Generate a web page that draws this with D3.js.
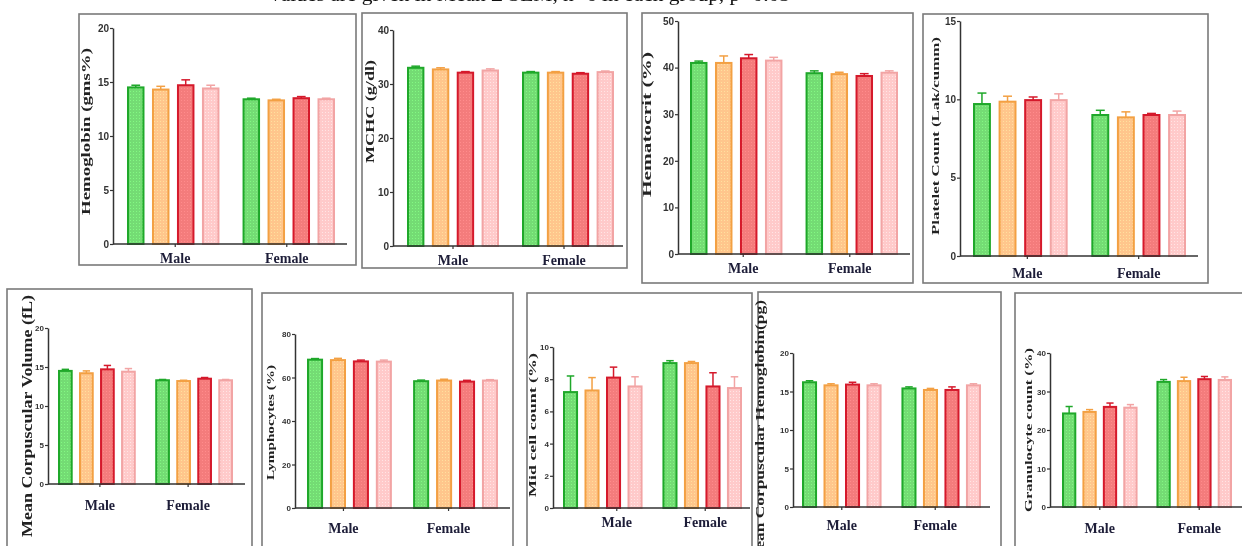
<!DOCTYPE html>
<html>
<head>
<meta charset="utf-8">
<script src="https://cdn.jsdelivr.net/npm/d3@7"></script>
<style>
  html, body { margin: 0; padding: 0; background: #fff; overflow: hidden; }
  svg { display: block; filter: blur(0.35px); }
</style>
</head>
<body>
<div id="chart"></div>
<script>
// figure data
const note = "values are given in Mean ± SEM, n=6 in each group, p<0.05";
const categories = ["Male", "Female"];
const groups = ["Group I", "Group II", "Group III", "Group IV"]; // not labelled in the figure
const panelLabels = [
  "Hemoglobin (gms%)", "MCHC (g/dl)", "Hematocrit (%)", "Platelet Count (Lak/cumm)",
  "Mean Corpuscular Volume (fL)", "Lymphocytes (%)", "Mid cell count (%)",
  "Mean Corpuscular Hemoglobin(pg)", "Granulocyte count (%)"
];
const yMaxes = [20, 40, 50, 15, 20, 80, 10, 20, 40];
const tickSteps = [5, 10, 10, 5, 5, 20, 2, 5, 10];
const maleMeans = [
  [14.5, 14.3, 14.7, 14.4],
  [33.0, 32.7, 32.1, 32.5],
  [41.0, 41.0, 42.0, 41.5],
  [9.7, 9.85, 9.95, 9.95],
  [14.5, 14.2, 14.7, 14.4],
  [68.2, 68.0, 67.4, 67.3],
  [7.2, 7.3, 8.1, 7.55],
  [16.2, 15.8, 15.9, 15.8],
  [24.3, 24.7, 26.0, 25.8]
];
const maleSem = [
  [0.2, 0.3, 0.5, 0.3],
  [0.3, 0.3, 0.2, 0.3],
  [0.4, 1.5, 0.8, 0.7],
  [0.7, 0.35, 0.2, 0.4],
  [0.2, 0.3, 0.5, 0.4],
  [0.5, 0.8, 0.6, 0.7],
  [1.0, 0.8, 0.65, 0.6],
  [0.2, 0.2, 0.3, 0.2],
  [1.8, 0.6, 1.0, 0.8]
];
const femaleMeans = [
  [13.4, 13.3, 13.5, 13.4],
  [32.1, 32.1, 31.9, 32.2],
  [38.8, 38.6, 38.2, 38.9],
  [9.0, 8.85, 9.0, 9.0],
  [13.3, 13.2, 13.5, 13.3],
  [58.3, 58.6, 58.1, 58.6],
  [9.0, 9.0, 7.55, 7.45],
  [15.4, 15.2, 15.2, 15.8],
  [32.5, 32.7, 33.2, 33.0]
];
const femaleSem = [
  [0.1, 0.1, 0.15, 0.1],
  [0.2, 0.2, 0.2, 0.2],
  [0.5, 0.4, 0.5, 0.4],
  [0.3, 0.35, 0.1, 0.25],
  [0.1, 0.1, 0.15, 0.1],
  [0.5, 0.6, 0.6, 0.4],
  [0.15, 0.1, 0.85, 0.7],
  [0.2, 0.2, 0.4, 0.2],
  [0.6, 1.0, 0.7, 0.8]
];

// look
const fills = ["#74dc74", "#ffc68c", "#f47c7c", "#ffcaca"];
const strokes = ["#1fa82a", "#f3a043", "#d5192b", "#f2a4a4"];

// where each panel sits on the page
const layout = [
  { box: [79, 14, 356, 265], ax: 113, y0: 244, yTop: 28, xEnd: 347, bars: [127, 335], lab: [85, 48, 215, 13], tf: 10, catY: 263, catDx: [2, -2] },
  { box: [362, 13, 627, 268], ax: 393, y0: 246, yTop: 30, xEnd: 623, bars: [407, 614], lab: [370, 60, 163, 12], tf: 10, catY: 265, catDx: [0, -4] },
  { box: [642, 13, 913, 283], ax: 678, y0: 254, yTop: 21, xEnd: 910, bars: [690, 898], lab: [647, 52, 197, 12], tf: 10, catY: 273, catDx: [7, -2] },
  { box: [923, 14, 1208, 283], ax: 960, y0: 256, yTop: 21, xEnd: 1198, bars: [973, 1186], lab: [935, 37, 235, 11], tf: 10, catY: 278, catDx: [7, 0] },
  { box: [7, 289, 252, 560], ax: 48, y0: 484, yTop: 328, xEnd: 245, bars: [58, 233], lab: [27, 295, 537, 14], tf: 8, catY: 510, catDx: [3, -6] },
  { box: [262, 293, 513, 560], ax: 295, y0: 508, yTop: 334, xEnd: 510, bars: [307, 498], lab: [270, 365, 480, 10], tf: 8, catY: 533, catDx: [-6, -7] },
  { box: [527, 293, 752, 560], ax: 553, y0: 508, yTop: 347, xEnd: 750, bars: [563, 742], lab: [532, 353, 497, 11], tf: 8, catY: 527, catDx: [14, 3] },
  { box: [758, 292, 1001, 560], ax: 793, y0: 507, yTop: 353, xEnd: 990, bars: [802, 981], lab: [760, 300, 565, 12], tf: 8, catY: 530, catDx: [0, -6] },
  { box: [1015, 293, 1250, 560], ax: 1050, y0: 507, yTop: 353, xEnd: 1242, bars: [1062, 1232], lab: [1028, 348, 512, 11], tf: 8, catY: 533, catDx: [0, 5] }
];

const W = 1242, H = 546;
const svg = d3.select("#chart").append("svg")
  .attr("width", W)
  .attr("height", H);

// dotted texture used by the bars
const defs = svg.append("defs");
fills.forEach((c, i) => {
  const p = defs.append("pattern")
    .attr("id", "tex" + i)
    .attr("width", 3).attr("height", 3)
    .attr("patternUnits", "userSpaceOnUse");
  p.append("rect").attr("width", 3).attr("height", 3).attr("fill", c);
  p.append("rect").attr("x", 1).attr("y", 1).attr("width", 1).attr("height", 1)
    .attr("fill", d3.color(c).brighter(0.35));
});

// caption, cut off by the top edge as in the source figure
svg.append("text")
  .attr("x", 270).attr("y", 1)
  .attr("textLength", 520)
  .attr("lengthAdjust", "spacingAndGlyphs")
  .style("font-family", "'Liberation Serif', 'Times New Roman', serif")
  .style("font-size", "18px")
  .attr("fill", "#111")
  .text(note);

layout.forEach((L, k) => {
  const g = svg.append("g");
  const [bx0, by0, bx1, by1] = L.box;

  g.append("rect")
    .attr("x", bx0).attr("y", by0)
    .attr("width", bx1 - bx0).attr("height", by1 - by0)
    .attr("fill", "none")
    .attr("stroke", "#7a7a7a")
    .attr("stroke-width", 1.6);

  const y = d3.scaleLinear().domain([0, yMaxes[k]]).range([L.y0, L.yTop]);
  const x0 = d3.scaleBand().domain(categories).range(L.bars).paddingInner(0.2).paddingOuter(0);
  const x1 = d3.scaleBand().domain(groups).range([0, x0.bandwidth()]).paddingInner(0.3).paddingOuter(0);

  const rows = categories.map((c, ci) => groups.map((gr, gi) => ({
    cat: c, grp: gr, gi: gi,
    v: (ci === 0 ? maleMeans : femaleMeans)[k][gi],
    e: (ci === 0 ? maleSem : femaleSem)[k][gi]
  }))).flat();

  // error bars (drawn first so the bar outline sits on top)
  const eb = g.selectAll(".err").data(rows).join("g").attr("class", "err")
    .attr("stroke", d => strokes[d.gi])
    .attr("stroke-width", 1.5);
  eb.append("line")
    .attr("x1", d => x0(d.cat) + x1(d.grp) + x1.bandwidth() / 2)
    .attr("x2", d => x0(d.cat) + x1(d.grp) + x1.bandwidth() / 2)
    .attr("y1", d => y(d.v))
    .attr("y2", d => y(d.v + d.e));
  eb.append("line")
    .attr("x1", d => x0(d.cat) + x1(d.grp) + x1.bandwidth() * 0.25)
    .attr("x2", d => x0(d.cat) + x1(d.grp) + x1.bandwidth() * 0.75)
    .attr("y1", d => y(d.v + d.e))
    .attr("y2", d => y(d.v + d.e));

  g.selectAll(".bar").data(rows).join("rect").attr("class", "bar")
    .attr("x", d => x0(d.cat) + x1(d.grp) + 1)
    .attr("y", d => y(d.v))
    .attr("width", x1.bandwidth() - 2)
    .attr("height", d => y(0) - y(d.v))
    .attr("fill", d => "url(#tex" + d.gi + ")")
    .attr("stroke", d => strokes[d.gi])
    .attr("stroke-width", 2);

  // y axis
  const ticks = d3.range(0, yMaxes[k] + tickSteps[k] / 2, tickSteps[k]);
  const ya = g.append("g")
    .attr("transform", `translate(${L.ax},0)`)
    .call(d3.axisLeft(y).tickValues(ticks).tickSize(3).tickSizeOuter(0).tickPadding(1));
  ya.select(".domain").attr("stroke", "#333").attr("stroke-width", 1.5);
  ya.selectAll(".tick line").attr("stroke", "#333").attr("stroke-width", 1.2);
  ya.selectAll(".tick text")
    .style("font-family", "'Liberation Sans', Arial, sans-serif")
    .style("font-weight", "bold")
    .style("font-size", L.tf + "px")
    .attr("fill", "#333");

  // x axis line with small ticks under the groups
  g.append("line")
    .attr("x1", L.ax).attr("x2", L.xEnd)
    .attr("y1", L.y0).attr("y2", L.y0)
    .attr("stroke", "#333").attr("stroke-width", 1.5);
  g.selectAll(".xt").data(categories).join("line").attr("class", "xt")
    .attr("x1", (c, i) => x0(c) + x0.bandwidth() / 2 + L.catDx[i])
    .attr("x2", (c, i) => x0(c) + x0.bandwidth() / 2 + L.catDx[i])
    .attr("y1", L.y0).attr("y2", L.y0 + 3)
    .attr("stroke", "#333").attr("stroke-width", 1.2);

  g.selectAll(".cat").data(categories).join("text").attr("class", "cat")
    .attr("x", (c, i) => x0(c) + x0.bandwidth() / 2 + L.catDx[i])
    .attr("y", L.catY)
    .attr("text-anchor", "middle")
    .style("font-family", "'Liberation Serif', 'Times New Roman', serif")
    .style("font-weight", "bold")
    .style("font-size", "14px")
    .attr("fill", "#1d1d38")
    .text(c => c);

  // rotated y label, stretched to the span it covers in the figure
  const [lx, ly0, ly1, lfs] = L.lab;
  g.append("text")
    .attr("transform", `translate(${lx},${(ly0 + ly1) / 2}) rotate(-90)`)
    .attr("text-anchor", "middle")
    .attr("dominant-baseline", "central")
    .attr("textLength", ly1 - ly0)
    .attr("lengthAdjust", "spacingAndGlyphs")
    .style("font-family", "'Liberation Serif', 'Times New Roman', serif")
    .style("font-weight", "bold")
    .style("font-size", lfs + "px")
    .attr("fill", "#222")
    .text(panelLabels[k]);
});
</script>
</body>
</html>
